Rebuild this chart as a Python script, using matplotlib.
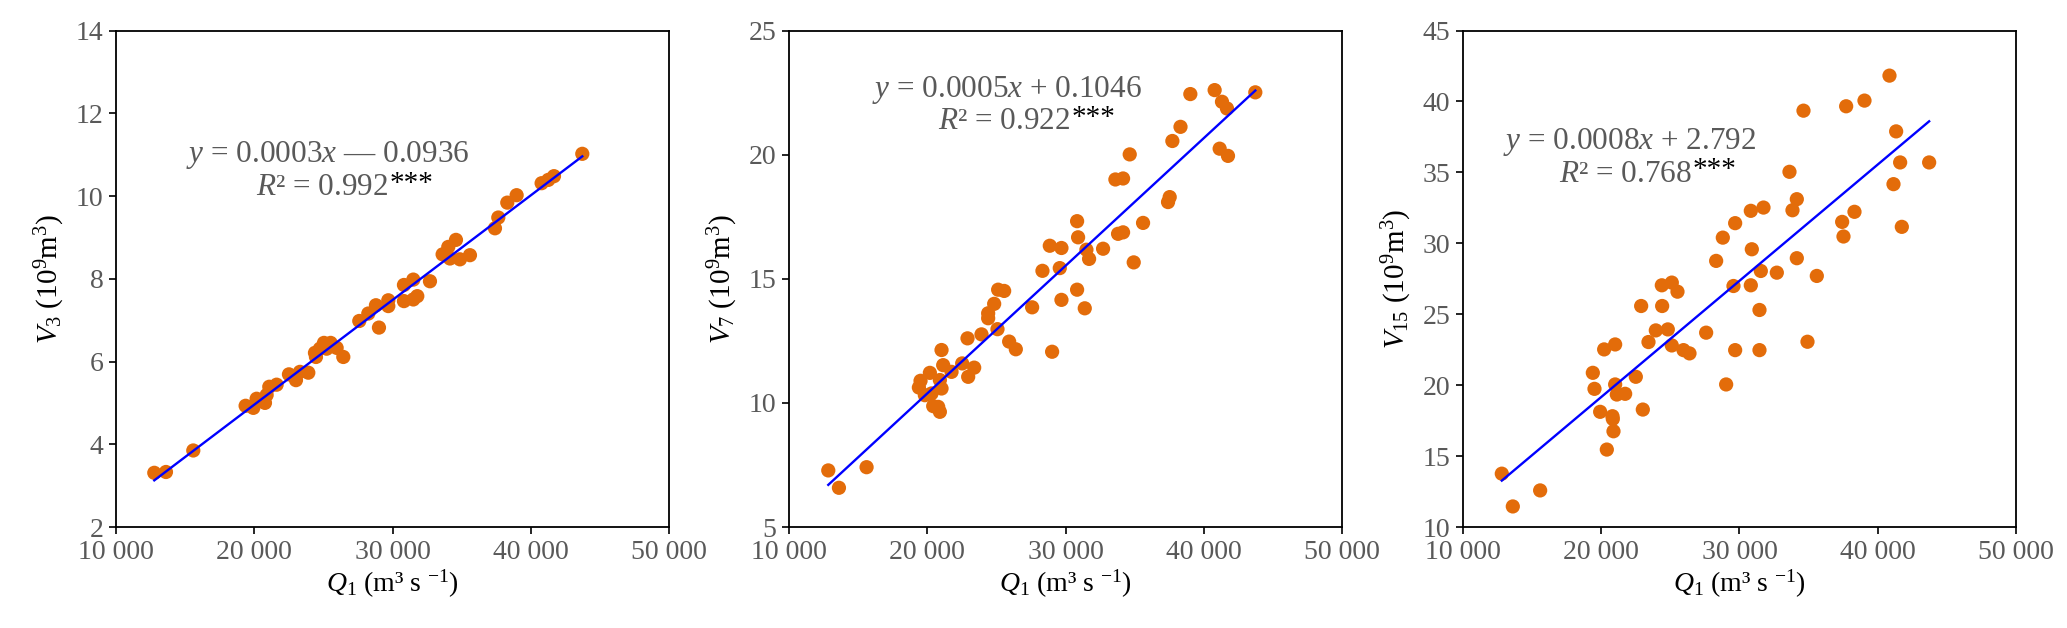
import numpy as np
import matplotlib
matplotlib.use('Agg')
import matplotlib.pyplot as plt

plt.rcParams['font.family'] = ['Liberation Serif', 'DejaVu Serif']
plt.rcParams['mathtext.fontset'] = 'custom'
plt.rcParams['mathtext.rm'] = 'Liberation Serif'
plt.rcParams['mathtext.it'] = 'Liberation Serif:italic'

# discharge Q1 (m3/s) and volume V3 (1e9 m3)
q1_v3 = [12771, 13614, 15590, 19373, 19928, 20169, 20771, 20892, 21084, 21614,
         22506, 23012, 23301, 23904, 24386, 24458, 24747, 25036, 25229, 25518,
         25952, 26434, 27590, 28241, 28795, 29012, 29687, 29687, 30819, 30819,
         31494, 31494, 31783, 32699, 33614, 34024, 34145, 34578, 34867, 35590,
         37398, 37639, 38289, 38964, 40771, 41253, 41663, 43711]
v3 = [3.31, 3.33, 3.85, 4.93, 4.88, 5.10, 5.00, 5.19, 5.39, 5.44,
      5.69, 5.55, 5.75, 5.73, 6.21, 6.11, 6.31, 6.45, 6.31, 6.45,
      6.33, 6.11, 6.98, 7.16, 7.36, 6.82, 7.48, 7.34, 7.85, 7.46,
      7.98, 7.50, 7.58, 7.94, 8.59, 8.77, 8.49, 8.94, 8.47, 8.57,
      9.22, 9.48, 9.84, 10.02, 10.31, 10.39, 10.48, 11.02]

# Q1 and V7
q1_v7 = [12841, 13612, 15610, 19511, 19391, 20185, 19824, 20306, 20426, 20908,
         20787, 21028, 21148, 21028, 20908, 21751, 22521, 22955, 23388, 22906,
         23917, 24399, 24399, 24833, 25073, 25121, 25555, 25916, 26398, 27578,
         28324, 28854, 29697, 29576, 29697, 29022, 30828, 30900, 30828, 31382,
         31502, 31695, 32706, 33597, 34151, 33790, 34151, 34632, 34921, 35596,
         37402, 37522, 37715, 38303, 39014, 40771, 41302, 41663, 41134, 41736,
         43711]
v7 = [7.28, 6.58, 7.41, 10.89, 10.62, 11.21, 10.31, 10.38, 9.87, 9.64,
      9.84, 10.58, 11.52, 12.13, 10.92, 11.25, 11.59, 11.05, 11.42, 12.60,
      12.76, 13.41, 13.61, 13.99, 12.97, 14.56, 14.51, 12.47, 12.16, 13.85,
      15.32, 16.33, 16.24, 15.43, 14.15, 12.06, 17.32, 16.67, 14.56, 13.81,
      16.17, 15.80, 16.21, 19.00, 19.04, 16.81, 16.87, 20.01, 15.66, 17.25,
      18.09, 18.29, 20.55, 21.12, 22.44, 22.60, 22.13, 21.86, 20.24, 19.95,
      22.51]

# Q1 and V15
q1_v15 = [12819, 13614, 15590, 19398, 19518, 19928, 20217, 20410, 20819, 20843,
          20892, 21012, 21012, 21133, 21735, 22506, 23012, 22892, 23422, 23952,
          24410, 24386, 25108, 25518, 24819, 25108, 25952, 26386, 27590, 28313,
          28795, 29036, 29566, 29687, 29687, 30819, 30892, 30819, 31542, 31446,
          31446, 31735, 32699, 33614, 33831, 34145, 34145, 34627, 34916, 35590,
          37422, 37518, 37711, 38313, 39036, 40843, 41325, 41133, 41614, 41735,
          43711]
v15 = [13.76, 11.45, 12.58, 20.87, 19.74, 18.12, 22.52, 15.46, 17.81, 17.62,
       16.75, 22.87, 20.05, 19.34, 19.39, 20.59, 18.28, 25.58, 23.04, 23.86,
       25.58, 27.04, 27.23, 26.59, 23.93, 22.80, 22.47, 22.24, 23.70, 28.76,
       30.40, 20.05, 26.99, 31.42, 22.47, 32.29, 29.58, 27.04, 28.05, 25.30,
       22.47, 32.52, 27.93, 35.04, 32.33, 33.11, 28.95, 39.35, 23.06, 27.70,
       31.51, 30.48, 39.66, 32.22, 40.06, 41.82, 37.89, 34.17, 35.70, 31.16,
       35.70]

x_ticks = [10000, 20000, 30000, 40000, 50000]
x_labels = ['10 000', '20 000', '30 000', '40 000', '50 000']

panels = [
    (q1_v3, v3, (2, 14), [2, 4, 6, 8, 10, 12, 14], r'$V_3$ (10$^9$m$^3$)',
     r'$y$ = 0.0003$x$ — 0.0936', '0.992', (0.382, 0.750), (0.492, 0.683)),
    (q1_v7, v7, (5, 25), [5, 10, 15, 20, 25], r'$V_7$ (10$^9$m$^3$)',
     r'$y$ = 0.0005$x$ + 0.1046', '0.922', (0.394, 0.881), (0.508, 0.816)),
    (q1_v15, v15, (10, 45), [10, 15, 20, 25, 30, 35, 40, 45], r'$V_{15}$ (10$^9$m$^3$)',
     r'$y$ = 0.0008$x$ + 2.792', '0.768', (0.301, 0.776), (0.414, 0.711)),
]

lefts = [0.0561, 0.3817, 0.7077]
grey = '#595959'

fig = plt.figure(figsize=(20.67, 6.28), dpi=100)

for left, (qx, vy, ylim, yticks, ylab, eq, r2, eq_pos, r2_pos) in zip(lefts, panels):
    ax = fig.add_axes([left, 0.1608, 0.2677, 0.7906])
    ax.scatter(qx, vy, s=105, color='#E36C0A', edgecolors='none', zorder=2)

    # linear fit over the data range
    k, b = np.polyfit(qx, vy, 1)
    xx = np.array([min(qx), max(qx)])
    ax.plot(xx, k * xx + b, color='#0000FF', lw=1.7, zorder=3)

    ax.set_xlim(10000, 50000)
    ax.set_ylim(*ylim)
    ax.set_xticks(x_ticks)
    ax.set_xticklabels(x_labels)
    ax.set_yticks(yticks)
    ax.tick_params(direction='out', length=5, width=1.2, labelsize=20,
                   labelcolor=grey, top=False, right=False, pad=4)
    for sp in ax.spines.values():
        sp.set_linewidth(1.3)
        sp.set_color('black')

    ax.set_xlabel(r'$Q_1$ (m³ s $^{-1}$)', fontsize=20, labelpad=2)
    ax.set_ylabel(ylab, fontsize=21, labelpad=6)

    ax.text(eq_pos[0], eq_pos[1], eq, transform=ax.transAxes, fontsize=22.5,
            color=grey, ha='center', va='center')
    ax.text(r2_pos[0], r2_pos[1], '$R$² = ' + r2, transform=ax.transAxes,
            fontsize=22.5, color=grey, ha='right', va='center')
    ax.text(r2_pos[0] + 0.002, r2_pos[1] + 0.008, '***', transform=ax.transAxes,
            fontsize=21, color='black', ha='left', va='center')

fig.savefig('out.png', dpi=100)
